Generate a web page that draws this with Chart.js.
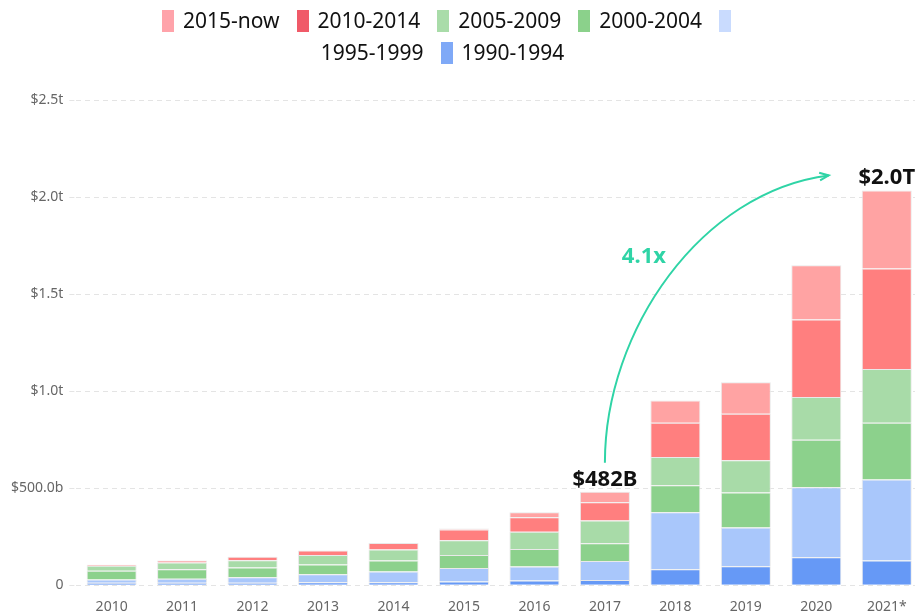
<!DOCTYPE html>
<html>
<head>
<meta charset="utf-8">
<script src="https://cdn.jsdelivr.net/npm/chart.js@4.4.1/dist/chart.umd.min.js"></script>
<style>
  html, body { margin: 0; padding: 0; background: #fff; width: 915px; height: 614px; overflow: hidden; }
  #wrap { position: absolute; left: 0; top: 0; width: 925px; height: 614px; }
  #wrap canvas { display: block; }
  #legend {
    position: absolute; left: 141px; top: 4px; width: 620px;
    text-align: center; font: 21px "Noto Sans", sans-serif; line-height: 32px; color: #111;
  }
  #legend .box { display: inline-block; width: 12px; height: 22px; vertical-align: middle; margin-right: 9px; position: relative; top: -1px; }
  #legend .lab { white-space: nowrap; margin-right: 17px; }
</style>
</head>
<body>
<div id="wrap"><canvas id="chart" width="925" height="614"></canvas></div>
<div id="legend"></div>
<script>
// years on the x axis
const years = ['2010', '2011', '2012', '2013', '2014', '2015', '2016', '2017', '2018', '2019', '2020', '2021*'];

// value by founding cohort, $ billions (bottom of the stack first)
const c1990 = [12, 12, 12, 15, 15, 19, 24, 27, 82, 98, 144, 127];
const c1995 = [17, 21, 29, 42, 56, 69, 72, 98, 294, 199, 361, 418];
const c2000 = [45, 49, 50, 50, 56, 67, 90, 91, 139, 181, 244, 292];
const c2005 = [26, 35, 38, 49, 57, 77, 89, 117, 146, 166, 221, 277];
const c2010 = [6, 10, 17, 23, 34, 55, 75, 95, 176, 239, 399, 518];
const c2015 = [0, 0, 0, 0, 0, 5, 26, 54, 115, 163, 279, 402];

const cohortNames = ['1990-1994', '1995-1999', '2000-2004', '2005-2009', '2010-2014', '2015-now'];
const barColors = ['#6699f6', '#a9c7fb', '#8cd18c', '#a8dba8', '#ff7f7f', '#ffa3a3'];
const legendColors = ['#7fa9f7', '#c9dbfe', '#8bd18b', '#a9dca9', '#f05a68', '#ffa3aa'];

// y axis ticks
const yTicks = [0, 500, 1000, 1500, 2000, 2500];
const yTickLabels = ['0', '$500.0b', '$1.0t', '$1.5t', '$2.0t', '$2.5t'];

// annotation texts
const fromLabel = '$482B';
const toLabel = '$2.0T';
const growthLabel = '4.1x';
const fromIdx = 7, toIdx = 11;

const series = [c1990, c1995, c2000, c2005, c2010, c2015];
const totals = years.map((_, i) => series.reduce((s, arr) => s + arr[i], 0));

// html legend, newest cohort first
const legendEl = document.getElementById('legend');
legendEl.innerHTML = cohortNames.map((n, i) => ({ n, c: legendColors[i] })).reverse()
  .map(d => `<span class="box" style="background:${d.c}"></span><wbr><span class="lab">${d.n}</span>`)
  .join('<wbr>');

const annotate = {
  id: 'annotate',
  afterDatasetsDraw(chart) {
    const { ctx, scales: { x, y } } = chart;
    const x0 = x.getPixelForValue(fromIdx), top0 = y.getPixelForValue(totals[fromIdx]);
    const x3 = x.getPixelForValue(toIdx), top3 = y.getPixelForValue(totals[toIdx]);
    ctx.save();
    ctx.font = 'bold 22px "Noto Sans"';
    ctx.fillStyle = '#111';
    ctx.textAlign = 'center';
    ctx.textBaseline = 'alphabetic';
    ctx.fillText(fromLabel, x0, top0 - 6);
    ctx.fillText(toLabel, x3, top3 - 6);

    // curved arrow
    const sx = x0, sy = top0 - 29;
    const ex = x3 - 58, ey = top3 - 15;
    const c1x = sx, c1y = sy - 0.46 * (sy - ey);
    const c2x = sx + 0.43 * (ex - sx), c2y = ey + 16;
    ctx.strokeStyle = '#2fd4a6';
    ctx.lineWidth = 2;
    ctx.beginPath();
    ctx.moveTo(sx, sy);
    ctx.bezierCurveTo(c1x, c1y, c2x, c2y, ex, ey);
    ctx.stroke();
    const ang = Math.atan2(ey - c2y, ex - c2x);
    ctx.beginPath();
    ctx.moveTo(ex - 10 * Math.cos(ang - 0.4), ey - 10 * Math.sin(ang - 0.4));
    ctx.lineTo(ex, ey);
    ctx.lineTo(ex - 10 * Math.cos(ang + 0.4), ey - 10 * Math.sin(ang + 0.4));
    ctx.stroke();

    ctx.fillStyle = '#2fd4a6';
    ctx.fillText(growthLabel, sx + 39, ey + 88);
    ctx.restore();
  }
};

new Chart('chart', {
  type: 'bar',
  data: {
    labels: years,
    datasets: series.map((arr, i) => ({
      label: cohortNames[i],
      data: arr,
      backgroundColor: barColors[i],
      borderColor: 'rgba(232,232,232,0.95)',
      borderWidth: 1,
      barPercentage: 0.71,
      categoryPercentage: 1
    }))
  },
  options: {
    responsive: false,
    animation: false,
    devicePixelRatio: 1,
    layout: { padding: { top: 100, left: 5, right: 3, bottom: -14 } },
    plugins: {
      legend: { display: false },
      tooltip: { enabled: false }
    },
    scales: {
      x: {
        stacked: true,
        grid: { display: false, drawTicks: false },
        border: { display: false },
        ticks: { color: '#666', font: { family: 'Noto Sans', size: 14 }, padding: 13 }
      },
      y: {
        stacked: true,
        min: 0,
        max: 2500,
        afterBuildTicks: (s) => { s.ticks = yTicks.map(v => ({ value: v })); },
        grid: { color: '#e4e4e4', tickLength: 7, tickBorderDash: [5, 4] },
        border: { display: false, dash: [5, 4] },
        ticks: {
          color: '#666',
          font: { family: 'Noto Sans', size: 14 },
          padding: 6,
          callback: (v) => yTickLabels[yTicks.indexOf(v)]
        }
      }
    }
  },
  plugins: [annotate]
});
</script>
</body>
</html>
